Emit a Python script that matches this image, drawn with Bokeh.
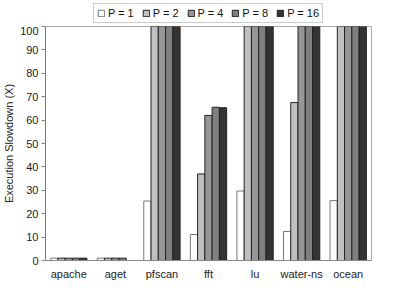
from bokeh.plotting import figure
from bokeh.models import Legend, LegendItem, ColumnDataSource, Range1d, FactorRange
from bokeh.layouts import column
from bokeh.transform import dodge
from bokeh.embed import file_html
from bokeh.resources import INLINE

categories = ["apache", "aget", "pfscan", "fft", "lu", "water-ns", "ocean"]
series_names = ["P = 1", "P = 2", "P = 4", "P = 8", "P = 16"]
# values above 100 are off the chart (capped at axis max 100)
p1 = [1.0, 1.0, 25.4, 11.1, 29.7, 12.4, 25.6]
p2 = [1.0, 1.0, 100, 37.0, 100, 67.5, 100]
p4 = [1.0, 1.0, 100, 62.0, 100, 100, 100]
p8 = [1.0, 1.0, 100, 65.5, 100, 100, 100]
p16 = [1.0, float("nan"), 100, 65.3, 100, 100, 100]
yticks = [0, 10, 20, 30, 40, 50, 60, 70, 80, 90, 100]

fills = ["#ffffff", "#c0c0c0", "#969696", "#808080", "#333333"]
lines = ["#777777", "#222222", "#222222", "#222222", "#222222"]

FONT = "Liberation Sans"

src = ColumnDataSource(dict(cat=categories, p1=p1, p2=p2, p4=p4, p8=p8, p16=p16))

# ---- legend strip (top) ----
lg = figure(width=399, height=26, x_range=Range1d(0, 1), y_range=Range1d(0, 1),
            output_backend="svg", toolbar_location=None, x_axis_type=None, y_axis_type=None,
            min_border_left=5, min_border_right=0, min_border_top=0, min_border_bottom=0)
lg.xgrid.visible = False
lg.ygrid.visible = False
lg.outline_line_color = None
# swatch-only renderers: their single point sits outside the visible range
swatch = ColumnDataSource(dict(x=[-5.0], top=[-5.0]))
lg_renderers = []
for fc, lc in zip(fills, lines):
    lg_renderers.append(lg.vbar(x="x", top="top", width=0.1, source=swatch,
                                fill_color=fc, line_color=lc, line_width=1))
legend = Legend(items=[LegendItem(label=n, renderers=[r]) for n, r in zip(series_names, lg_renderers)],
                orientation="horizontal", location="center",
                label_text_font=FONT, label_text_font_size="11px", label_text_color="#111111",
                glyph_width=8, glyph_height=8, label_standoff=3, spacing=8, padding=3,
                margin=0, border_line_color="#999999",
                background_fill_color="white", background_fill_alpha=1)
lg.add_layout(legend, "center")

# ---- main chart ----
p = figure(width=399, height=256, x_range=FactorRange(*categories), y_range=Range1d(0, 100),
           output_backend="svg", toolbar_location=None,
           min_border_left=33, min_border_right=28, min_border_top=0, min_border_bottom=19)

bw = 0.156
offsets = [-2 * bw, -bw, 0, bw, 2 * bw]
cols = ["p1", "p2", "p4", "p8", "p16"]
for col, off, fc, lc in zip(cols, offsets, fills, lines):
    p.vbar(x=dodge("cat", off, range=p.x_range), top=col, width=bw, bottom=0, source=src,
           fill_color=fc, line_color=lc, line_width=1)

p.xgrid.visible = False
p.ygrid.visible = False
p.outline_line_color = "#aaaaaa"
p.background_fill_color = "white"

p.yaxis.ticker = yticks
p.yaxis.axis_label = "Execution Slowdown (X)"
p.yaxis.axis_label_text_font = FONT
p.yaxis.axis_label_text_font_size = "11px"
p.yaxis.axis_label_text_font_style = "normal"
p.yaxis.axis_label_text_color = "#222222"
p.yaxis.axis_label_standoff = 2
p.yaxis.major_label_text_font = FONT
p.yaxis.major_label_text_font_size = "11px"
p.yaxis.major_label_text_color = "#222222"
p.yaxis.major_label_standoff = 3
p.yaxis.major_tick_line_color = "#888888"
p.yaxis.major_tick_out = 4
p.yaxis.major_tick_in = 0
p.yaxis.minor_tick_line_color = None
p.yaxis.axis_line_color = "#777777"

p.xaxis.major_tick_line_color = None
p.xaxis.major_tick_out = 0
p.xaxis.major_tick_in = 0
p.xaxis.minor_tick_line_color = None
p.xaxis.axis_line_color = "#888888"
p.xaxis.major_label_text_font = FONT
p.xaxis.major_label_text_font_size = "11px"
p.xaxis.major_label_text_color = "#222222"
p.xaxis.major_label_standoff = 7

layout = column(lg, p, spacing=0)
open("out.html", "w").write(file_html(layout, INLINE))
